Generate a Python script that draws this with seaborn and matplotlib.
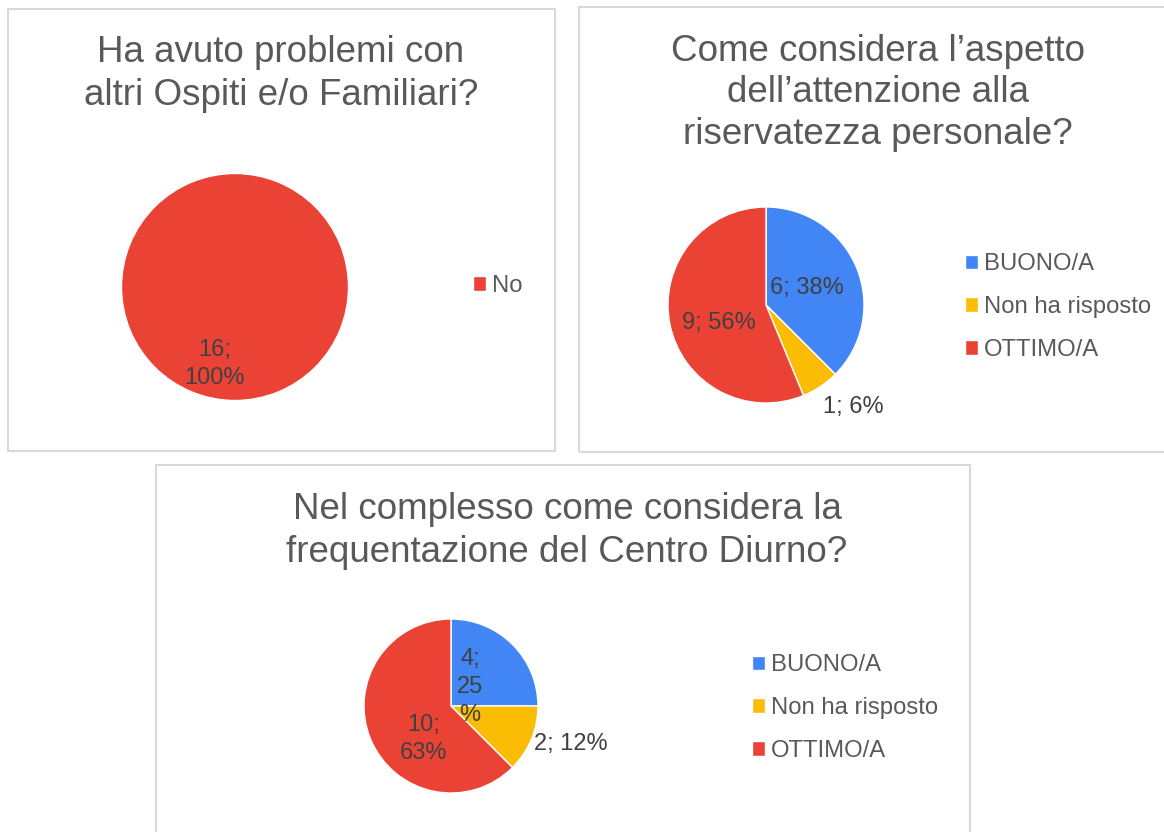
import numpy as np
import seaborn as sns
import matplotlib.pyplot as plt
from matplotlib.patches import Rectangle, Patch

# -------------------------------
# Data
# -------------------------------
q1_title = "Ha avuto problemi con\naltri Ospiti e/o Familiari?"
q1_categories = ["No"]
q1_values = [16]
q1_labels = ["16;\n100%"]

q2_title = "Come considera l\u2019aspetto\ndell\u2019attenzione alla\nriservatezza personale?"
q2_categories = ["BUONO/A", "Non ha risposto", "OTTIMO/A"]
q2_values = [6, 1, 9]
q2_labels = ["6; 38%", "1; 6%", "9; 56%"]

q3_title = "Nel complesso come considera la\nfrequentazione del Centro Diurno?"
q3_categories = ["BUONO/A", "Non ha risposto", "OTTIMO/A"]
q3_values = [4, 2, 10]
q3_labels = ["4;\n25\n%", "2; 12%", "10;\n63%"]

colors = {"BUONO/A": "#4285F4", "Non ha risposto": "#FBBC04",
          "OTTIMO/A": "#EA4335", "No": "#EA4335"}

# -------------------------------
# Styling
# -------------------------------
sns.set_style("white")
plt.rcParams["font.family"] = ["Liberation Sans", "DejaVu Sans"]

W, H = 1164, 832
fig = plt.figure(figsize=(W / 100, H / 100), dpi=100)
fig.patch.set_facecolor("white")

TITLE_C = "#595959"
LABEL_C = "#404040"


def fx(x):
    return x / W


def fy(y):
    return 1 - y / H


def panel(x0, y0, x1, y1):
    fig.patches.append(Rectangle((fx(x0), fy(y1)), (x1 - x0) / W, (y1 - y0) / H,
                                 transform=fig.transFigure, fill=False,
                                 edgecolor="#d9d9d9", linewidth=1.5))


def draw_pie(cx, cy, r, cats, vals, labels, lab_pos, title, tx, ty,
             leg_x=None, leg_y=None, title_ls=1.3):
    pad = 1.05
    ax = fig.add_axes([fx(cx - r * pad), fy(cy + r * pad),
                       2 * r * pad / W, 2 * r * pad / H])
    wedges, _ = ax.pie(vals, colors=[colors[c] for c in cats], startangle=90,
                       counterclock=False, radius=1)
    ax.set_xlim(-pad, pad)
    ax.set_ylim(-pad, pad)
    ax.set_aspect("auto")
    ax.axis("off")
    for w, lab, (dist, rot) in zip(wedges, labels, lab_pos):
        ang = np.deg2rad((w.theta1 + w.theta2) / 2 + rot)
        ax.text(dist * np.cos(ang), dist * np.sin(ang), lab, ha="center",
                va="center", fontsize=17, color=LABEL_C, linespacing=1.35)
    fig.text(fx(tx), fy(ty), title, ha="center", va="center",
             fontsize=26.5, color=TITLE_C, linespacing=title_ls)
    handles = [Patch(facecolor=colors[c]) for c in cats]
    fig.legend(handles, cats, loc="center left",
               bbox_to_anchor=(fx(leg_x), fy(leg_y)),
               bbox_transform=fig.transFigure, frameon=False,
               fontsize=17.2, labelcolor=TITLE_C, handlelength=0.55,
               handleheight=0.55, handletextpad=0.25, labelspacing=0.87,
               borderpad=0, borderaxespad=0)


panel(8, 9, 555, 451)
panel(579, 7, 1175, 452)
panel(156, 465, 970, 840)

draw_pie(235, 287, 113.5, q1_categories, q1_values, q1_labels,
         [(0.70, -15)], q1_title, 281, 74, leg_x=473, leg_y=286)
draw_pie(766, 305, 98, q2_categories, q2_values, q2_labels,
         [(0.45, 0), (1.37, 7), (0.52, 10)], q2_title, 878, 93,
         leg_x=965, leg_y=307, title_ls=1.25)
draw_pie(451, 706, 87, q3_categories, q3_values, q3_labels,
         [(0.31, 0), (1.44, 5), (0.49, 28)], q3_title, 567, 531,
         leg_x=752, leg_y=708)

plt.savefig("out.png", dpi=100)
plt.close()
